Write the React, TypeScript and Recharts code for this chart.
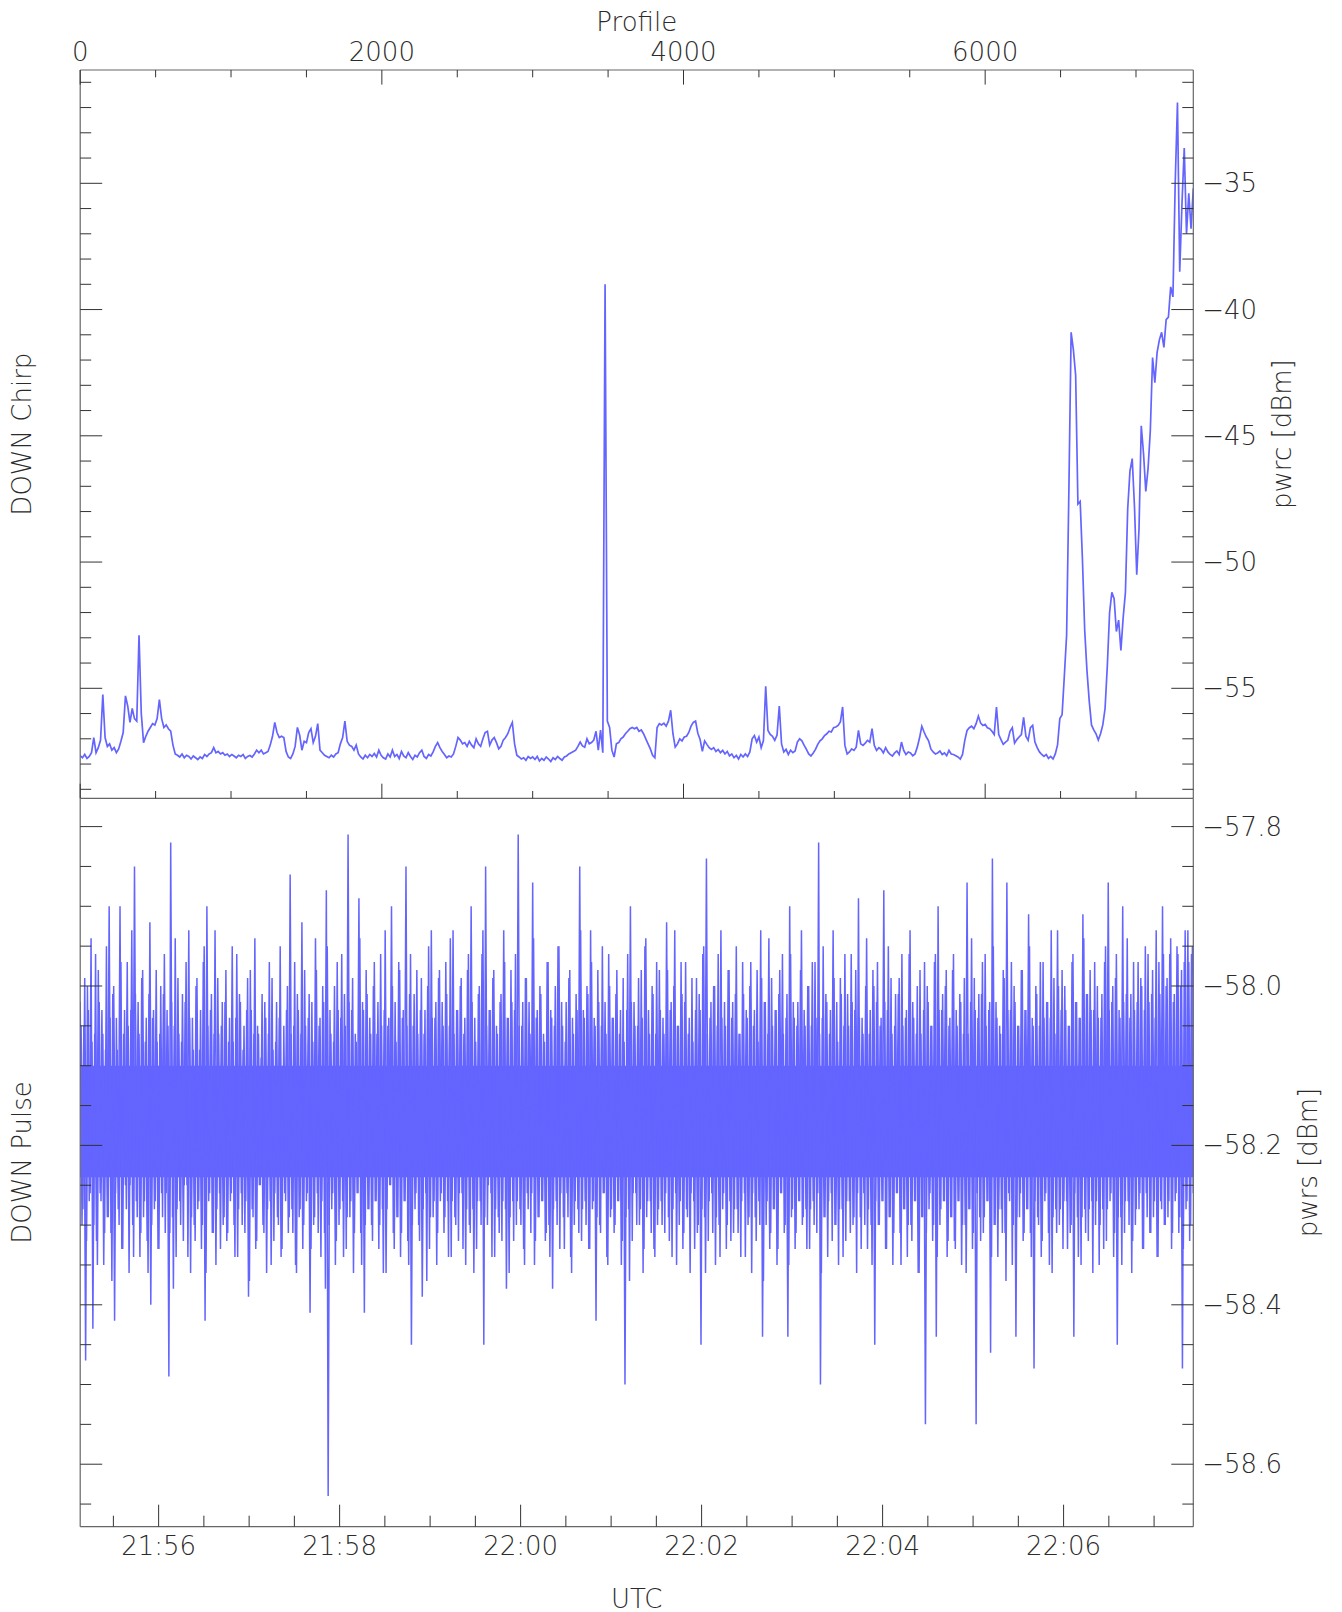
import React from 'react';
import { LineChart, ComposedChart, Line, Area, XAxis, YAxis } from 'recharts';

// ---------- DATA ----------
// DOWN Chirp: pwrc [dBm], one reading every 15 profiles starting at profile 0
const PROFILE_STEP = 15;
const chirpPwrc: number[] = [
  -57.66, -57.75, -57.62, -57.78, -57.7, -57.55, -56.95, -57.55, -57.35, -57.05, -55.25, -56.95, -57.3, -57.2, -57.45, -57.35, -57.55, -57.4, -57.1, -56.75,
  -55.3, -55.7, -56.35, -55.8, -56.2, -56.3, -52.9, -56.0, -57.15, -56.9, -56.7, -56.55, -56.4, -56.45, -56.2, -55.45, -56.2, -56.55, -56.45, -56.6,
  -56.7, -57.25, -57.6, -57.65, -57.72, -57.6, -57.75, -57.65, -57.7, -57.8, -57.68, -57.75, -57.82, -57.72, -57.78, -57.62, -57.7, -57.6, -57.55, -57.35,
  -57.55, -57.5, -57.6, -57.55, -57.65, -57.6, -57.7, -57.62, -57.68, -57.75, -57.65, -57.7, -57.62, -57.78, -57.7, -57.66, -57.72, -57.6, -57.45, -57.55,
  -57.45, -57.6, -57.55, -57.5, -57.25, -56.9, -56.35, -56.75, -56.95, -56.9, -56.95, -57.5, -57.72, -57.78, -57.6, -57.3, -56.55, -56.85, -57.45, -57.1,
  -57.15, -56.75, -56.6, -57.15, -56.9, -56.4, -57.45, -57.55, -57.65, -57.7, -57.75, -57.65, -57.72, -57.6, -57.55, -57.2, -56.95, -56.3, -57.1, -57.25,
  -57.3, -57.45, -57.25, -57.6, -57.72, -57.8, -57.65, -57.75, -57.62, -57.7, -57.58, -57.72, -57.45, -57.65, -57.75, -57.8, -57.6, -57.72, -57.45, -57.7,
  -57.62, -57.78, -57.5, -57.68, -57.75, -57.55, -57.7, -57.82, -57.65, -57.72, -57.55, -57.45, -57.7, -57.78, -57.62, -57.68, -57.52, -57.3, -57.15, -57.35,
  -57.5, -57.62, -57.75, -57.68, -57.72, -57.6, -57.3, -56.95, -57.05, -57.2, -57.15, -57.3, -57.1, -57.25, -57.35, -57.0, -57.2, -57.3, -57.0, -56.75,
  -56.7, -57.25, -57.05, -56.95, -57.15, -57.4, -57.3, -57.05, -56.95, -56.8, -56.55, -56.35, -57.2, -57.65, -57.72, -57.8, -57.75, -57.85, -57.7, -57.78,
  -57.72, -57.82, -57.7, -57.88, -57.78, -57.85, -57.72, -57.8, -57.9, -57.75, -57.82, -57.7, -57.78, -57.85, -57.72, -57.68, -57.6, -57.55, -57.5, -57.45,
  -57.3, -57.13, -57.28, -57.33, -57.0, -57.2, -57.15, -57.05, -56.7, -57.45, -56.65, -57.55, -39.0, -56.3, -56.55, -57.45, -57.72, -57.2, -57.15, -57.0,
  -56.93, -56.8, -56.7, -56.6, -56.55, -56.6, -56.55, -56.7, -56.65, -56.8, -57.0, -57.2, -57.4, -57.65, -57.75, -56.55, -56.4, -56.45, -56.38, -56.5,
  -56.3, -55.87, -56.8, -57.33, -57.2, -57.0, -57.08, -56.93, -56.9, -56.75, -56.5, -56.35, -56.3, -56.78, -57.03, -57.5, -57.08, -57.22, -57.35, -57.42,
  -57.35, -57.5, -57.42, -57.55, -57.46, -57.6, -57.5, -57.68, -57.6, -57.75, -57.66, -57.8, -57.62, -57.72, -57.6, -57.7, -57.52, -57.0, -56.87, -57.13,
  -56.93, -57.35, -57.07, -54.92, -56.67, -56.83, -56.9, -57.06, -56.85, -55.7, -57.2, -57.52, -57.42, -57.62, -57.45, -57.55, -57.48, -57.13, -57.0, -57.08,
  -57.26, -57.42, -57.6, -57.68, -57.56, -57.42, -57.22, -57.08, -57.0, -56.87, -56.8, -56.7, -56.73, -56.56, -56.53, -56.47, -56.33, -55.74, -57.26, -57.6,
  -57.52, -57.4, -57.46, -57.33, -56.67, -57.2, -57.26, -57.17, -57.06, -57.13, -56.6, -57.26, -57.46, -57.35, -57.42, -57.56, -57.35, -57.52, -57.62, -57.68,
  -57.56, -57.48, -57.62, -57.13, -57.46, -57.62, -57.52, -57.56, -57.67, -57.6, -57.33, -56.96, -56.5, -56.73, -56.93, -57.08, -57.4, -57.52, -57.6, -57.56,
  -57.48, -57.62, -57.56, -57.67, -57.46, -57.6, -57.62, -57.67, -57.72, -57.8, -57.62, -57.06, -56.67, -56.56, -56.5, -56.6, -56.4, -56.1, -56.38, -56.47,
  -56.43, -56.56, -56.6, -56.7, -56.83, -55.74, -56.83, -57.03, -57.22, -57.13, -57.06, -56.7, -56.56, -57.17, -57.03, -56.93, -56.83, -56.15, -56.9, -57.06,
  -56.56, -56.47, -57.13, -57.35, -57.52, -57.62, -57.7, -57.62, -57.78, -57.7, -57.8, -57.6, -57.24, -56.2, -56.05, -54.5, -52.9, -47.2, -40.9, -41.6,
  -42.6, -47.7, -47.6, -49.9, -52.7, -54.3, -55.5, -56.45, -56.65, -56.8, -57.05, -56.8, -56.45, -55.8, -54.1, -52.0, -51.2, -51.45, -52.75, -52.3,
  -53.5, -52.2, -51.2, -47.9, -46.4, -45.9, -47.8, -50.5, -48.7, -44.6, -45.7, -47.2, -46.3, -44.8, -41.9, -42.9, -41.7, -41.2, -40.9, -41.5,
  -40.4, -40.3, -39.1, -39.5, -35.0, -31.8, -38.5, -35.8, -33.6, -37.0, -35.4, -36.8, -35.2,
];

// DOWN Pulse: pwrs [dBm]; two interleaved traces of alternating upper / lower excursions,
// each with one point every 1.2 s, the second offset by 0.6 s; start 21:55:08 UTC
const PULSE_START = 78908; // seconds of day, 21:55:08
const PULSE_STEP = 1.2;
const PULSE_OFFSET_B = 0.6;
const pulseHigh: number[] = [
  -58.02, -58.05, -58.0, -57.94, -58.06, -57.98, -58.03, -58.08, -57.9, -58.01, -58.04, -57.9, -58.06, -57.97, -58.03, -57.85, -58.02, -57.99, -58.07, -58.01,
  -58.04, -57.98, -58.06, -58.01, -58.03, -57.82, -58.05, -57.99, -58.07, -58.02, -57.93, -58.04, -58.0, -58.08, -57.97, -57.9, -58.03, -58.06, -57.99, -58.05,
  -58.02, -58.07, -57.95, -58.04, -58.01, -58.08, -58.03, -57.98, -58.06, -58.05, -58.09, -58.02, -58.06, -57.99, -58.07, -58.04, -58.1, -58.03, -57.86, -58.05,
  -58.01, -58.06, -57.98, -58.04, -58.02, -57.94, -58.05, -58.0, -57.88, -58.03, -58.07, -57.97, -58.04, -58.01, -57.81, -58.03, -58.06, -57.89, -58.02, -57.98,
  -58.04, -58.0, -58.06, -57.96, -58.03, -58.05, -57.9, -58.02, -57.97, -58.04, -57.85, -58.01, -58.05, -57.98, -58.03, -58.06, -58.0, -57.93, -58.04, -57.99,
  -58.02, -57.97, -58.05, -57.93, -58.03, -58.0, -58.06, -57.98, -57.9, -58.04, -58.01, -57.96, -57.85, -58.03, -57.99, -58.05, -58.02, -57.93, -58.04, -57.98,
  -58.03, -57.81, -58.05, -57.99, -58.02, -57.87, -58.04, -58.0, -58.06, -57.97, -58.03, -58.05, -57.95, -58.02, -58.07, -57.99, -58.04, -58.01, -57.85, -58.03,
  -58.0, -57.93, -58.04, -57.98, -58.05, -58.02, -57.96, -58.04, -58.01, -58.06, -57.99, -58.03, -57.9, -58.02, -58.05, -57.98, -57.95, -58.03, -58.0, -58.06,
  -57.98, -58.04, -57.92, -58.03, -58.0, -58.05, -57.97, -58.02, -58.06, -57.99, -58.03, -58.01, -57.96, -57.84, -58.04, -58.0, -58.05, -57.93, -58.02, -57.98,
  -58.04, -58.01, -58.06, -57.97, -58.03, -58.0, -58.05, -57.98, -57.93, -58.02, -58.06, -57.99, -58.03, -58.01, -57.96, -58.04, -57.9, -58.02, -58.05, -57.98,
  -58.03, -58.0, -58.05, -57.97, -57.82, -58.04, -58.01, -58.06, -57.93, -58.02, -57.99, -58.05, -58.01, -57.96, -58.03, -57.89, -58.04, -58.0, -58.06, -57.98,
  -58.02, -58.05, -57.88, -58.03, -57.99, -58.05, -58.01, -57.96, -58.04, -57.96, -58.02, -58.06, -57.98, -58.03, -58.0, -58.05, -57.97, -57.9, -58.03, -58.0,
  -58.05, -57.98, -58.03, -58.01, -58.06, -57.87, -58.02, -57.99, -58.04, -58.01, -57.96, -58.03, -57.84, -58.02, -58.05, -57.98, -57.87, -58.03, -58.0, -58.05,
  -57.98, -58.03, -57.91, -58.04, -58.0, -58.05, -57.97, -58.02, -58.04, -57.99, -57.93, -58.03, -58.0, -58.05, -57.97, -58.02, -58.04, -57.91, -58.01, -57.98,
  -58.03, -58.0, -58.04, -57.97, -57.87, -58.02, -57.99, -58.03, -57.9, -58.01, -58.04, -57.97, -58.02, -57.99, -58.03, -57.96, -58.01, -58.04, -57.97, -57.9,
  -58.0, -57.96, -58.02, -57.95, -58.0, -57.97, -57.93, -57.96,
];
const pulseLow: number[] = [
  -58.3, -58.47, -58.27, -58.43, -58.32, -58.26, -58.35, -58.29, -58.31, -58.42, -58.28, -58.33, -58.25, -58.36, -58.3, -58.27, -58.34, -58.29, -58.32, -58.4,
  -58.28, -58.33, -58.26, -58.31, -58.49, -58.29, -58.34, -58.27, -58.32, -58.25, -58.36, -58.3, -58.28, -58.33, -58.42, -58.27, -58.31, -58.35, -58.26, -58.3,
  -58.32, -58.27, -58.3, -58.34, -58.26, -58.31, -58.39, -58.28, -58.33, -58.25, -58.3, -58.36, -58.27, -58.32, -58.29, -58.34, -58.26, -58.31, -58.28, -58.35,
  -58.29, -58.33, -58.27, -58.41, -58.3, -58.26, -58.34, -58.31, -58.64, -58.28, -58.35, -58.3, -58.27, -58.33, -58.29, -58.36, -58.26, -58.31, -58.41, -58.28,
  -58.3, -58.27, -58.33, -58.28, -58.36, -58.25, -58.31, -58.29, -58.34, -58.27, -58.32, -58.45, -58.28, -58.3, -58.39, -58.26, -58.33, -58.29, -58.35, -58.27,
  -58.31, -58.27, -58.34, -58.29, -58.32, -58.26, -58.35, -58.3, -58.28, -58.33, -58.27, -58.45, -58.3, -58.26, -58.34, -58.29, -58.32, -58.28, -58.36, -58.27,
  -58.3, -58.28, -58.33, -58.26, -58.31, -58.35, -58.29, -58.27, -58.32, -58.3, -58.38, -58.27, -58.33, -58.29, -58.26, -58.34, -58.3, -58.28, -58.32, -58.27,
  -58.33, -58.28, -58.42, -58.3, -58.26, -58.34, -58.29, -58.31, -58.27, -58.35, -58.5, -58.28, -58.32, -58.26, -58.3, -58.36, -58.29, -58.27, -58.33, -58.3,
  -58.27, -58.31, -58.29, -58.34, -58.26, -58.3, -58.33, -58.28, -58.36, -58.27, -58.31, -58.45, -58.29, -58.32, -58.26, -58.35, -58.3, -58.28, -58.33, -58.27,
  -58.31, -58.28, -58.34, -58.26, -58.3, -58.36, -58.29, -58.27, -58.44, -58.3, -58.33, -58.28, -58.35, -58.26, -58.31, -58.44, -58.29, -58.33, -58.27, -58.3,
  -58.28, -58.33, -58.27, -58.31, -58.5, -58.29, -58.34, -58.26, -58.3, -58.35, -58.28, -58.32, -58.27, -58.3, -58.36, -58.29, -58.26, -58.33, -58.3, -58.45,
  -58.3, -58.27, -58.33, -58.29, -58.35, -58.26, -58.31, -58.28, -58.34, -58.3, -58.27, -58.36, -58.29, -58.55, -58.28, -58.32, -58.44, -58.3, -58.27, -58.34,
  -58.29, -58.32, -58.27, -58.35, -58.3, -58.28, -58.33, -58.55, -58.29, -58.31, -58.27, -58.46, -58.3, -58.34, -58.28, -58.31, -58.26, -58.35, -58.44, -58.29,
  -58.32, -58.28, -58.31, -58.48, -58.29, -58.34, -58.27, -58.31, -58.36, -58.28, -58.3, -58.33, -58.27, -58.31, -58.44, -58.29, -58.35, -58.28, -58.32, -58.27,
  -58.3, -58.35, -58.28, -58.32, -58.27, -58.34, -58.45, -58.29, -58.31, -58.27, -58.36, -58.3, -58.28, -58.33, -58.26, -58.31, -58.29, -58.34, -58.27, -58.3,
  -58.29, -58.33, -58.27, -58.31, -58.48, -58.28, -58.32, -58.26,
];
const pulseHighB: number[] = [
  -58.05, -57.99, -58.03, -58.07, -57.96, -58.02, -58.06, -57.95, -58.04, -58.0, -58.08, -57.97, -58.03, -58.05, -57.93, -58.01, -58.06, -57.98, -58.04, -57.92,
  -58.03, -58.07, -58.0, -57.96, -58.05, -58.02, -57.94, -58.06, -58.01, -57.97, -58.04, -58.08, -57.99, -58.03, -57.95, -58.05, -58.01, -57.93, -58.06, -58.02,
  -57.98, -58.04, -58.07, -57.96, -58.02, -58.05, -57.99, -58.03, -57.94, -58.06, -58.01, -58.04, -57.97, -58.08, -58.02, -57.95, -58.05, -58.0, -58.06, -57.97,
  -58.03, -57.92, -58.05, -58.01, -58.07, -57.98, -58.04, -58.02, -57.95, -58.06, -58.0, -58.03, -57.96, -58.05, -58.02, -57.99, -58.07, -57.94, -58.03, -58.01,
  -58.06, -57.97, -58.02, -58.05, -57.93, -58.04, -58.0, -58.07, -57.98, -58.03, -58.05, -57.96, -58.01, -58.06, -57.99, -58.03, -57.95, -58.04, -58.02, -57.98,
  -58.05, -58.01, -57.94, -58.06, -58.03, -57.99, -58.04, -57.96, -58.02, -58.07, -58.0, -57.93, -58.05, -58.03, -57.98, -58.06, -58.01, -57.97, -58.04, -58.02,
  -57.96, -58.05, -58.02, -57.99, -58.06, -57.94, -58.03, -58.01, -58.07, -57.97, -58.04, -58.0, -57.95, -58.05, -58.02, -57.98, -58.06, -58.03, -57.93, -58.04,
  -58.01, -57.97, -58.05, -58.02, -57.95, -58.06, -58.0, -58.04, -57.98, -58.03, -58.07, -57.96, -58.02, -58.05, -57.99, -58.04, -57.94, -58.06, -58.01, -57.97,
  -58.03, -58.06, -57.98, -58.02, -57.93, -58.05, -58.01, -57.97, -58.04, -58.07, -57.99, -58.03, -57.95, -58.06, -58.02, -58.0, -57.96, -58.04, -58.05, -57.98,
  -58.02, -57.95, -58.06, -58.01, -58.04, -57.97, -58.03, -58.07, -57.99, -58.02, -57.94, -58.05, -58.03, -57.98, -58.06, -58.01, -57.96, -58.04, -58.02, -57.93,
  -58.05, -58.0, -57.97, -58.04, -58.06, -57.95, -58.02, -58.03, -57.99, -58.07, -58.01, -57.96, -58.05, -58.02, -57.98, -58.04, -58.06, -57.94, -58.03, -58.0,
  -57.97, -58.04, -58.02, -57.95, -58.06, -58.01, -57.99, -58.05, -58.03, -57.93, -58.04, -58.0, -58.06, -57.97, -58.02, -58.05, -57.96, -58.03, -58.01, -57.98,
  -58.04, -57.96, -58.05, -58.02, -57.99, -58.06, -57.94, -58.03, -58.01, -57.97, -58.05, -58.02, -57.95, -58.04, -58.06, -57.99, -58.03, -57.97, -58.02, -58.05,
  -57.98, -58.03, -57.95, -58.05, -58.01, -57.97, -58.04, -58.02, -57.93, -58.06, -58.0, -57.98, -58.03, -58.05, -57.96, -58.02, -58.04, -57.94, -58.01, -58.03,
  -57.97, -58.04, -58.01, -57.95, -58.03, -58.0, -57.96, -58.04, -58.02, -57.94, -58.01, -58.03, -57.97, -58.0, -57.95, -58.02, -57.98, -57.93, -58.01, -57.96,
  -57.99, -57.94, -58.01, -57.96, -57.98, -57.93, -57.97, -57.95,
];
const pulseLowB: number[] = [
  -58.28, -58.32, -58.26, -58.3, -58.35, -58.27, -58.31, -58.29, -58.37, -58.26, -58.3, -58.33, -58.28, -58.25, -58.34, -58.29, -58.31, -58.27, -58.36, -58.3,
  -58.27, -58.33, -58.29, -58.26, -58.31, -58.38, -58.28, -58.3, -58.25, -58.34, -58.29, -58.32, -58.27, -58.3, -58.36, -58.26, -58.31, -58.28, -58.33, -58.29,
  -58.31, -58.26, -58.34, -58.28, -58.3, -58.27, -58.37, -58.29, -58.32, -58.25, -58.31, -58.28, -58.35, -58.26, -58.3, -58.33, -58.27, -58.29, -58.31, -58.36,
  -58.28, -58.3, -58.26, -58.33, -58.29, -58.31, -58.27, -58.38, -58.3, -58.26, -58.32, -58.28, -58.34, -58.29, -58.27, -58.31, -58.26, -58.35, -58.3, -58.28,
  -58.32, -58.27, -58.3, -58.36, -58.28, -58.25, -58.33, -58.29, -58.31, -58.27, -58.35, -58.3, -58.26, -58.32, -58.28, -58.37, -58.29, -58.27, -58.31, -58.26,
  -58.29, -58.34, -58.27, -58.3, -58.26, -58.33, -58.28, -58.31, -58.36, -58.27, -58.3, -58.29, -58.25, -58.34, -58.28, -58.31, -58.27, -58.38, -58.29, -58.32,
  -58.27, -58.3, -58.35, -58.28, -58.26, -58.32, -58.29, -58.27, -58.31, -58.34, -58.28, -58.3, -58.26, -58.33, -58.29, -58.36, -58.27, -58.31, -58.28, -58.3,
  -58.33, -58.27, -58.29, -58.31, -58.26, -58.35, -58.28, -58.3, -58.27, -58.32, -58.29, -58.37, -58.26, -58.3, -58.28, -58.33, -58.27, -58.31, -58.34, -58.28,
  -58.3, -58.26, -58.32, -58.28, -58.35, -58.27, -58.31, -58.29, -58.26, -58.33, -58.3, -58.28, -58.36, -58.27, -58.31, -58.29, -58.34, -58.26, -58.3, -58.32,
  -58.28, -58.31, -58.27, -58.34, -58.29, -58.26, -58.32, -58.3, -58.37, -58.27, -58.31, -58.28, -58.33, -58.26, -58.3, -58.35, -58.28, -58.31, -58.27, -58.29,
  -58.33, -58.28, -58.3, -58.26, -58.36, -58.29, -58.27, -58.32, -58.3, -58.28, -58.34, -58.27, -58.31, -58.29, -58.26, -58.33, -58.3, -58.28, -58.35, -58.27,
  -58.3, -58.27, -58.33, -58.29, -58.31, -58.26, -58.35, -58.28, -58.3, -58.32, -58.27, -58.36, -58.29, -58.31, -58.26, -58.3, -58.34, -58.28, -58.27, -58.32,
  -58.29, -58.33, -58.27, -58.3, -58.36, -58.28, -58.31, -58.26, -58.32, -58.29, -58.27, -58.34, -58.3, -58.28, -58.31, -58.37, -58.27, -58.3, -58.29, -58.26,
  -58.31, -58.28, -58.34, -58.27, -58.3, -58.32, -58.26, -58.35, -58.29, -58.31, -58.28, -58.27, -58.33, -58.3, -58.26, -58.34, -58.29, -58.31, -58.28, -58.36,
  -58.27, -58.3, -58.33, -58.28, -58.26, -58.31, -58.29, -58.35, -58.27, -58.3, -58.32, -58.28, -58.26, -58.33, -58.29, -58.31, -58.27, -58.34, -58.28, -58.3,
  -58.27, -58.31, -58.26, -58.29, -58.33, -58.27, -58.3, -58.26,
];
// solid core of the pulse trace (upper and lower edge)
const pulseCoreHigh = -58.1;
const pulseCoreLow = -58.24;

// ---------- AXES ----------
const profileTicks = [0, 500, 1000, 1500, 2000, 2500, 3000, 3500, 4000, 4500, 5000, 5500, 6000, 6500, 7000];
const profileMajor = [0, 2000, 4000, 6000];
const pwrcTicks = [-59, -58, -57, -56, -55, -54, -53, -52, -51, -50, -49, -48, -47, -46, -45, -44, -43, -42, -41, -40, -39, -38, -37, -36, -35, -34, -33, -32, -31];
const pwrcMajor = [-55, -50, -45, -40, -35];
const pwrsTicks = [-58.65, -58.6, -58.55, -58.5, -58.45, -58.4, -58.35, -58.3, -58.25, -58.2, -58.15, -58.1, -58.05, -58.0, -57.95, -57.9, -57.85, -57.8];
const pwrsMajor = [-58.6, -58.4, -58.2, -58.0, -57.8];
const utcTicks = [78930, 78960, 78990, 79020, 79050, 79080, 79110, 79140, 79170, 79200, 79230, 79260, 79290, 79320, 79350, 79380, 79410, 79440, 79470, 79500, 79530, 79560, 79590, 79620];
const utcMajor = [78960, 79080, 79200, 79320, 79440, 79560];
const utcLabels = ['21:56', '21:58', '22:00', '22:02', '22:04', '22:06'];

const PROFILE_DOMAIN: [number, number] = [0, 7380];
const PWRC_DOMAIN: [number, number] = [-59.356, -30.513];
const PWRS_DOMAIN: [number, number] = [-58.6784, -57.7645];
const UTC_DOMAIN: [number, number] = [PULSE_START, PULSE_START + 738];

// ---------- BUILD ----------
const chirpData = chirpPwrc.map((v, i) => ({ p: i * PROFILE_STEP, v }));
type PulsePt = { t: number; a?: number; b?: number; core?: [number, number] };
const pulseMap = new Map<number, PulsePt>();
const putPulse = (t: number, key: 'a' | 'b', v: number) => {
  const k = Math.round(t * 10);
  const pt = pulseMap.get(k) || { t, core: [pulseCoreLow, pulseCoreHigh] as [number, number] };
  pt[key] = v;
  pulseMap.set(k, pt);
};
pulseHigh.forEach((hi, k) => {
  putPulse(PULSE_START + 2 * k * PULSE_STEP, 'a', hi);
  putPulse(PULSE_START + (2 * k + 1) * PULSE_STEP, 'a', pulseLow[k]);
});
pulseHighB.forEach((hi, k) => {
  const t0 = PULSE_START + PULSE_OFFSET_B + 2 * k * PULSE_STEP;
  if (t0 <= UTC_DOMAIN[1]) putPulse(t0, 'b', hi);
  const t1 = t0 + PULSE_STEP;
  if (t1 <= UTC_DOMAIN[1]) putPulse(t1, 'b', pulseLowB[k]);
});
const pulseData = Array.from(pulseMap.values()).sort((p, q) => p.t - q.t);

// ---------- STYLE ----------
const BLUE = '#6464ff';
const FRAME = '#666666';
const TICKC = '#333333';
const TEXTC = '#2b2b2b';
const FONT = "'DejaVu Sans', 'Liberation Sans', sans-serif";
const FS = 26;
const FW = 200;

const W = 1342;
const PLOT_L = 80.2;
const PLOT_R = 1193.3;
const TOP_T = 70;
const MID = 798.3;
const BOT_B = 1526.7;
const TOP_H = 800;
const BOT_TOP = 790;
const BOT_H = 822;
const LEFT_AXIS_W = 40;
const RIGHT_AXIS_W = 140;
const TOP_AXIS_H = 60;
const MID_AXIS_H = 1;
const BOTTOM_AXIS_H = 60;

const isIn = (list: number[], v: number) => list.some((m) => Math.abs(m - v) < 1e-6);
const minus = (s: string) => s.replace('-', '\u2212');

const TopProfileTick = (props: any) => {
  const { x, y, payload } = props;
  const major = isIn(profileMajor, payload.value);
  return (
    <g>
      <line x1={x} y1={y} x2={x} y2={y + (major ? 14.6 : 7.3)} stroke={TICKC} strokeWidth={1} />
      {major ? (
        <text x={x} y={y - 9.5} textAnchor="middle" fontSize={FS} fontFamily={FONT} fontWeight={FW} fill={TEXTC}>
          {payload.value}
        </text>
      ) : null}
    </g>
  );
};

const MidProfileTick = (props: any) => {
  const { x, y, payload } = props;
  const major = isIn(profileMajor, payload.value);
  return <line x1={x} y1={y} x2={x} y2={y - (major ? 14.6 : 7.3)} stroke={TICKC} strokeWidth={1} />;
};

const UtcTick = (props: any) => {
  const { x, y, payload } = props;
  const idx = utcMajor.findIndex((m) => Math.abs(m - payload.value) < 1e-6);
  const major = idx >= 0;
  return (
    <g>
      <line x1={x} y1={y} x2={x} y2={y - (major ? 22 : 11)} stroke={TICKC} strokeWidth={1} />
      {major ? (
        <text x={x} y={y + 28.5} textAnchor="middle" fontSize={FS} fontFamily={FONT} fontWeight={FW} fill={TEXTC}>
          {utcLabels[idx]}
        </text>
      ) : null}
    </g>
  );
};

const makeLeftTick = (majors: number[]) => (props: any) => {
  const { x, y, payload } = props;
  const major = isIn(majors, payload.value);
  return <line x1={x} y1={y} x2={x + (major ? 22 : 11)} y2={y} stroke={TICKC} strokeWidth={1} />;
};

const makeRightTick = (majors: number[], fmt: (v: number) => string) => (props: any) => {
  const { x, y, payload } = props;
  const major = isIn(majors, payload.value);
  return (
    <g>
      <line x1={x} y1={y} x2={x - (major ? 22 : 11)} y2={y} stroke={TICKC} strokeWidth={1} />
      {major ? (
        <text x={x + 9} y={y} dominantBaseline="central" textAnchor="start" fontSize={FS} fontFamily={FONT} fontWeight={FW} fill={TEXTC}>
          {fmt(payload.value)}
        </text>
      ) : null}
    </g>
  );
};

const axisLine = { stroke: FRAME, strokeWidth: 1.2 };
const common = { tickSize: 0, tickMargin: 0, tickLine: false, interval: 0 as const, allowDataOverflow: true, axisLine };

export default function App() {
  return (
    <div style={{ position: 'absolute', left: 0, top: 0, width: W, height: 1612, background: '#ffffff' }}>
      <div style={{ position: 'absolute', left: 0, top: 0 }}>
        <LineChart
          width={W}
          height={TOP_H}
          data={chirpData}
          margin={{
            top: TOP_T - TOP_AXIS_H,
            left: PLOT_L - LEFT_AXIS_W,
            right: W - PLOT_R - RIGHT_AXIS_W,
            bottom: TOP_H - MID - MID_AXIS_H,
          }}
        >
          <XAxis xAxisId="top" orientation="top" dataKey="p" type="number" domain={PROFILE_DOMAIN} ticks={profileTicks} height={TOP_AXIS_H} tick={TopProfileTick} {...common} />
          <XAxis xAxisId="mid" orientation="bottom" dataKey="p" type="number" domain={PROFILE_DOMAIN} ticks={profileTicks} height={MID_AXIS_H} tick={MidProfileTick} {...common} />
          <YAxis yAxisId="left" orientation="left" type="number" domain={PWRC_DOMAIN} ticks={pwrcTicks} width={LEFT_AXIS_W} tick={makeLeftTick(pwrcMajor)} {...common} />
          <YAxis yAxisId="right" orientation="right" type="number" domain={PWRC_DOMAIN} ticks={pwrcTicks} width={RIGHT_AXIS_W} tick={makeRightTick(pwrcMajor, (v) => minus(String(v)))} {...common} />
          <Line xAxisId="top" yAxisId="right" type="linear" dataKey="v" stroke={BLUE} strokeWidth={1.7} dot={false} activeDot={false} isAnimationActive={false} />
        </LineChart>
      </div>
      <div style={{ position: 'absolute', left: 0, top: BOT_TOP }}>
        <ComposedChart
          width={W}
          height={BOT_H}
          data={pulseData}
          margin={{
            top: MID - BOT_TOP,
            left: PLOT_L - LEFT_AXIS_W,
            right: W - PLOT_R - RIGHT_AXIS_W,
            bottom: BOT_H - (BOT_B - BOT_TOP) - BOTTOM_AXIS_H,
          }}
        >
          <XAxis xAxisId="utc" orientation="bottom" dataKey="t" type="number" domain={UTC_DOMAIN} ticks={utcTicks} height={BOTTOM_AXIS_H} tick={UtcTick} {...common} />
          <YAxis yAxisId="l" orientation="left" type="number" domain={PWRS_DOMAIN} ticks={pwrsTicks} width={LEFT_AXIS_W} tick={makeLeftTick(pwrsMajor)} {...common} />
          <YAxis yAxisId="r" orientation="right" type="number" domain={PWRS_DOMAIN} ticks={pwrsTicks} width={RIGHT_AXIS_W} tick={makeRightTick(pwrsMajor, (v) => minus(v.toFixed(1)))} {...common} />
          <Area xAxisId="utc" yAxisId="r" type="linear" dataKey="core" stroke="none" fill={BLUE} fillOpacity={1} isAnimationActive={false} activeDot={false} />
          <Line xAxisId="utc" yAxisId="r" type="linear" dataKey="a" stroke={BLUE} strokeWidth={1.5} dot={false} activeDot={false} connectNulls isAnimationActive={false} />
          <Line xAxisId="utc" yAxisId="r" type="linear" dataKey="b" stroke={BLUE} strokeWidth={1.5} dot={false} activeDot={false} connectNulls isAnimationActive={false} />
        </ComposedChart>
      </div>
      <svg width={W} height={1612} style={{ position: 'absolute', left: 0, top: 0, pointerEvents: 'none' }}>
        <g fontFamily={FONT} fontSize={FS} fontWeight={FW} fill={TEXTC}>
          <text x={(PLOT_L + PLOT_R) / 2} y={30.5} textAnchor="middle">Profile</text>
          <text x={(PLOT_L + PLOT_R) / 2} y={1607.5} textAnchor="middle">UTC</text>
          <text transform={`translate(1291, ${(TOP_T + MID) / 2}) rotate(-90)`} textAnchor="middle">pwrc [dBm]</text>
          <text transform={`translate(1317, ${(MID + BOT_B) / 2}) rotate(-90)`} textAnchor="middle">pwrs [dBm]</text>
          <text transform={`translate(31, ${(TOP_T + MID) / 2}) rotate(-90)`} textAnchor="middle">DOWN Chirp</text>
          <text transform={`translate(31, ${(MID + BOT_B) / 2}) rotate(-90)`} textAnchor="middle">DOWN Pulse</text>
        </g>
      </svg>
    </div>
  );
}
